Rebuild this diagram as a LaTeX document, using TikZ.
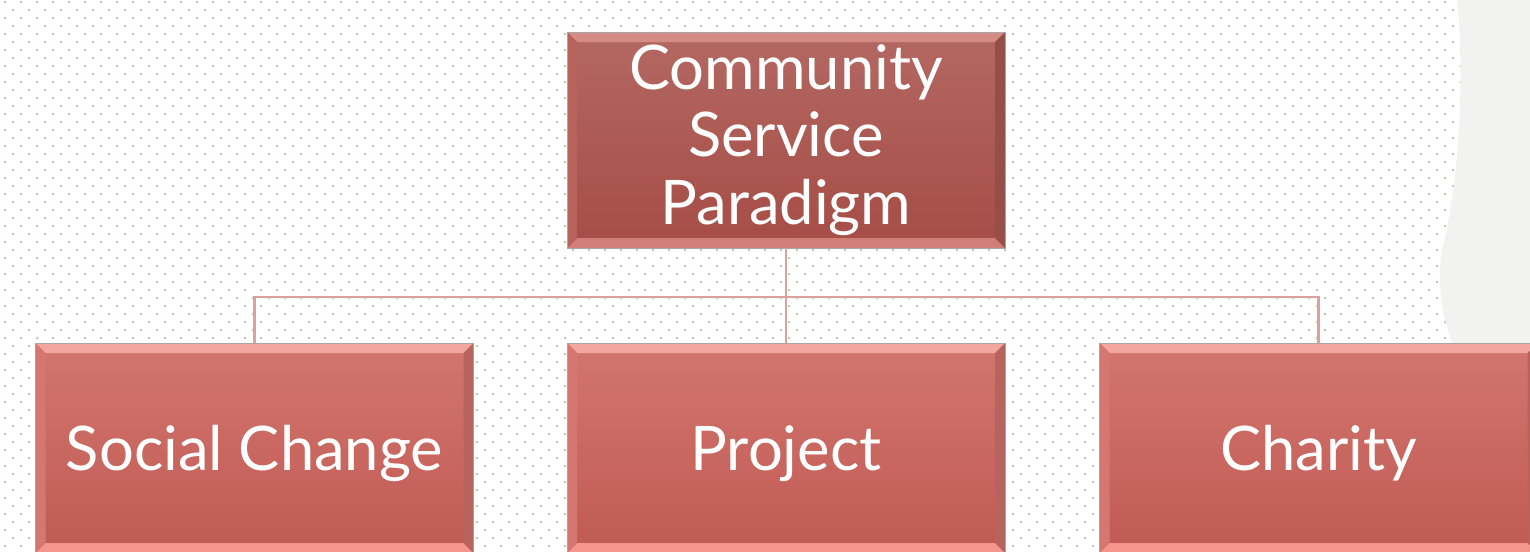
\documentclass[tikz,border=0pt]{standalone}
\usepackage{fontspec}
\setmainfont{Lato}
\usetikzlibrary{positioning,calc,shadings}

\definecolor{dotc}{RGB}{186,204,180}
\definecolor{paper}{RGB}{242,242,240}
\definecolor{linkc}{RGB}{219,160,160}
% head box (top)
\definecolor{headI}{RGB}{180,104,98}
\definecolor{headO}{RGB}{166,76,70}
\definecolor{headT}{RGB}{214,140,134}
\definecolor{headL}{RGB}{184,98,92}
\definecolor{headR}{RGB}{150,78,72}
\definecolor{headB}{RGB}{210,126,120}
% leaf boxes (bottom)
\definecolor{leafI}{RGB}{210,118,112}
\definecolor{leafO}{RGB}{192,90,82}
\definecolor{leafT}{RGB}{242,166,158}
\definecolor{leafL}{RGB}{214,118,112}
\definecolor{leafR}{RGB}{184,100,94}
\definecolor{leafB}{RGB}{244,150,140}

\begin{document}
\begin{tikzpicture}[x=0.02cm,y=-0.02cm,
    bevel/.style={path picture={
      \fill[#1T] (path picture bounding box.north west) -- (path picture bounding box.north east)
        -- ([shift={(-10,10)}]path picture bounding box.north east) -- ([shift={(10,10)}]path picture bounding box.north west) -- cycle;
      \fill[#1B] (path picture bounding box.south west) -- (path picture bounding box.south east)
        -- ([shift={(-10,-10)}]path picture bounding box.south east) -- ([shift={(10,-10)}]path picture bounding box.south west) -- cycle;
      \fill[#1L] (path picture bounding box.north west) -- ([shift={(10,10)}]path picture bounding box.north west)
        -- ([shift={(10,-10)}]path picture bounding box.south west) -- (path picture bounding box.south west) -- cycle;
      \fill[#1R] (path picture bounding box.north east) -- ([shift={(-10,10)}]path picture bounding box.north east)
        -- ([shift={(-10,-10)}]path picture bounding box.south east) -- (path picture bounding box.south east) -- cycle;
    }},
    box/.style={rectangle,draw=black!35,line width=0.4pt,text=white,align=center,
      font=\fontsize{35}{38.5}\selectfont,inner sep=0pt},
    headbox/.style={box,minimum width=438*0.02cm,minimum height=216*0.02cm,
      top color=headI,bottom color=headO,bevel=head},
    leafbox/.style={box,minimum width=438*0.02cm,minimum height=210*0.02cm,
      text depth=0pt,top color=leafI,bottom color=leafO,bevel=leaf},
    link/.style={linkc,line width=1.2pt},
    linkshade/.style={black!25,line width=1.2pt,shift={(1.5,1.5)}}]

    \useasboundingbox (0,0) rectangle (1530,551);
    \fill[white] (0,0) rectangle (1530,551);

    % dotted paper
    \fill[dotc] \foreach \j in {0,...,68} {
        \foreach \i in {0,...,95} {
          ({4+16*\i+8*mod(\j,2)},{1+8*\j}) rectangle ++(2,2)
        }
      };

    % grey margin on the right
    \fill[paper] (1457,0) .. controls (1464,60) and (1462,170) .. (1442,250)
      .. controls (1436,290) and (1444,320) .. (1452,343) -- (1530,343) -- (1530,0) -- cycle;

    % nodes
    \node[headbox] (csp) at (786,140) {Community\\Service\\Paradigm};
    \node[leafbox] (social) at (254.5,448) {Social Change};
    \node[leafbox] (project) at (786,448) {Project};
    \node[leafbox] (charity) at (1318.5,448) {Charity};

    \coordinate (hub) at (786,297);

    % connectors
    \begin{scope}[linkshade]
      \draw (csp.south) -- (hub);
      \draw (hub) -| (social.north);
      \draw (hub) -| (charity.north);
      \draw (hub) -- (project.north);
    \end{scope}
    \draw[link] (csp.south) -- (hub);
    \draw[link] (hub) -| (social.north);
    \draw[link] (hub) -| (charity.north);
    \draw[link] (hub) -- (project.north);

  \end{tikzpicture}
\end{document}
